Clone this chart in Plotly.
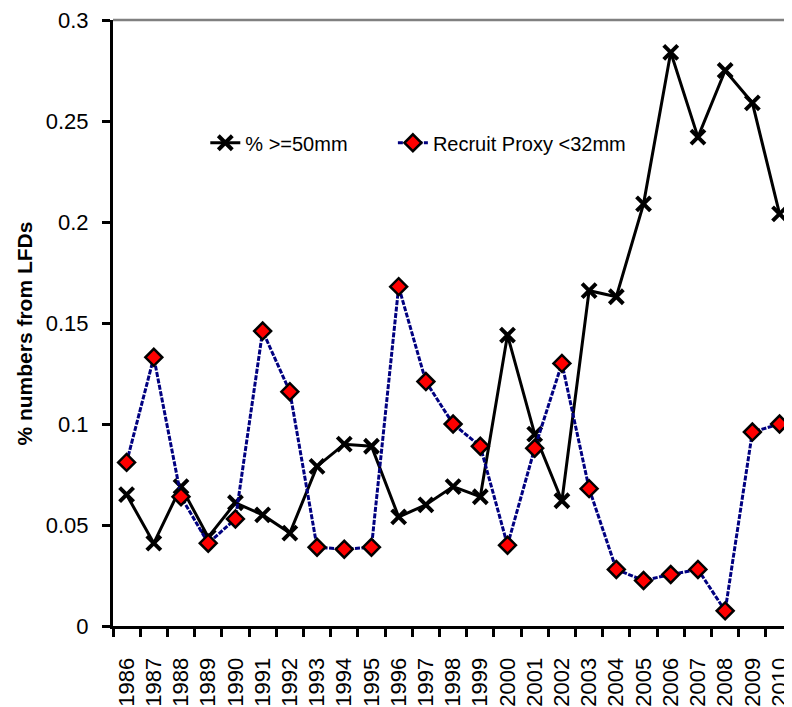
import plotly.graph_objects as go

years = [str(y) for y in range(1986, 2011)]
pct_ge50 = [0.065, 0.041, 0.069, 0.044, 0.061, 0.055, 0.046, 0.079, 0.090, 0.089,
            0.054, 0.060, 0.069, 0.064, 0.144, 0.095, 0.062, 0.166, 0.163, 0.209,
            0.284, 0.242, 0.275, 0.259, 0.204]
recruit_lt32 = [0.081, 0.133, 0.064, 0.041, 0.053, 0.146, 0.116, 0.039, 0.038, 0.039,
                0.168, 0.121, 0.100, 0.089, 0.040, 0.088, 0.130, 0.068, 0.028, 0.0225,
                0.0255, 0.028, 0.0075, 0.096, 0.100]
y_ticks = [0, 0.05, 0.1, 0.15, 0.2, 0.25, 0.3]
y_ticktext = ["0", "0.05", "0.1", "0.15", "0.2", "0.25", "0.3"]

FONT = "Liberation Sans, Arial, sans-serif"

# page has an 8px body margin; figure is sized to fit the 792x707 window
W, H = 784, 699
L, R, T, B = 104.5, 0, 10, 77
PW, PH = W - L - R, H - T - B
XR = [-0.5, 24.42]

fig = go.Figure()
fig.add_trace(go.Scatter(
    x=years, y=pct_ge50, name="% >=50mm", mode="lines+markers",
    line=dict(color="black", width=3),
    marker=dict(symbol="x-thin-open", size=14, color="black",
                line=dict(color="black", width=4)),
    legend="legend",
))
fig.add_trace(go.Scatter(
    x=years, y=recruit_lt32, name="Recruit Proxy <32mm", mode="lines+markers",
    line=dict(color="#000080", width=3, dash="5px,1.5px"),
    marker=dict(symbol="diamond", size=13, color="red",
                line=dict(color="black", width=2.5)),
    legend="legend2",
))

leg_common = dict(orientation="h", yanchor="middle", xanchor="left",
                  bgcolor="rgba(0,0,0,0)", font=dict(size=20))
fig.update_layout(
    width=W, height=H,
    margin=dict(l=L, r=R, t=T, b=B),
    paper_bgcolor="white", plot_bgcolor="white",
    font=dict(family=FONT, color="black", size=22),
    showlegend=True,
    legend=dict(x=(197 - L) / PW, y=(T + PH - 134) / PH, **leg_common),
    legend2=dict(x=(385 - L) / PW, y=(T + PH - 134) / PH, **leg_common),
    xaxis=dict(
        type="category", range=XR, showgrid=False, zeroline=False,
        showline=True, linecolor="black", linewidth=3,
        ticks="outside", ticklen=8, tickwidth=3, tickcolor="black",
        tickson="boundaries", tickangle=-90, tickfont=dict(size=22),
        ticklabelstandoff=20, ticklabeloverflow="allow",
    ),
    yaxis=dict(
        range=[0, 0.3], tickvals=y_ticks, ticktext=y_ticktext, showgrid=False,
        zeroline=False, showline=True, linecolor="black", linewidth=3,
        ticks="outside", ticklen=8, tickwidth=3, tickcolor="black",
        tickfont=dict(size=22), ticklabelstandoff=9, ticklabeloverflow="allow",
    ),
    xaxis2=dict(
        overlaying="x", anchor="y", range=XR,
        tickvals=[i - 0.5 for i in range(len(years) + 1)],
        showticklabels=False, showgrid=False, zeroline=False, showline=False,
        ticks="inside", ticklen=7, tickwidth=3, tickcolor="black",
    ),
    yaxis2=dict(
        overlaying="y", anchor="x", range=[0, 0.3], tickvals=y_ticks,
        showticklabels=False, showgrid=False, zeroline=False, showline=False,
        ticks="inside", ticklen=7, tickwidth=3, tickcolor="black",
    ),
    shapes=[dict(type="line", xref="paper", yref="paper", x0=0, x1=1, y0=1, y1=1,
                 line=dict(color="#808080", width=2.5))],
    annotations=[dict(text="<b>% numbers from LFDs</b>", xref="paper", yref="paper",
                      x=(16 - L) / PW, y=(T + PH - 327) / PH, xanchor="center",
                      yanchor="middle", textangle=-90, showarrow=False,
                      font=dict(size=21, family=FONT))],
)

fig.write_html("out.html")
